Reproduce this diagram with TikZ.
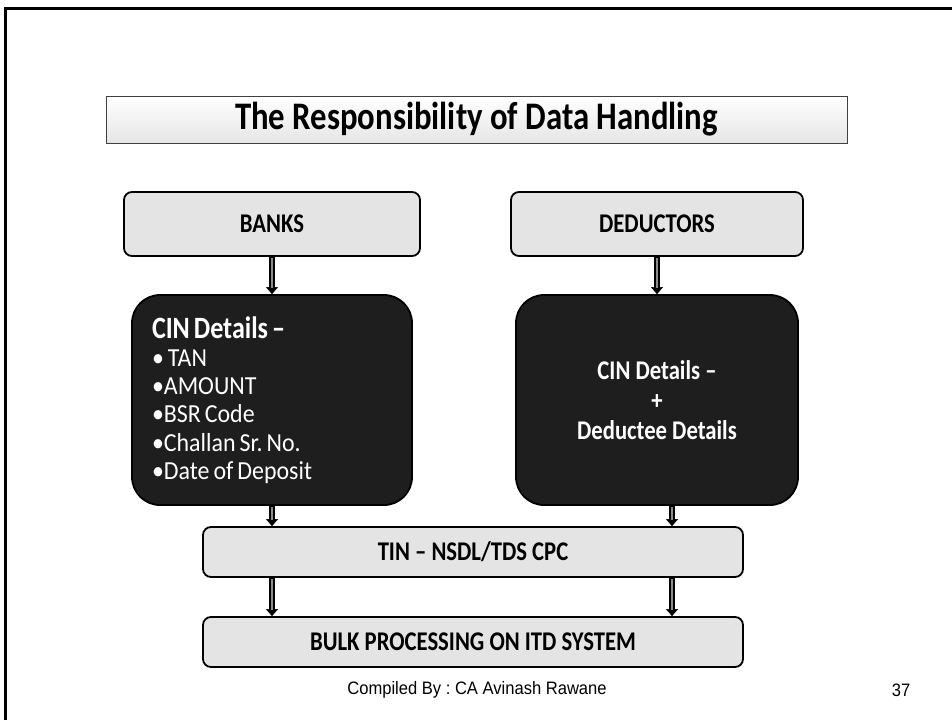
\documentclass[tikz,border=0pt]{standalone}
\usepackage{fontspec}
\setmainfont{Carlito}
\newfontfamily\condf[FakeStretch=0.84]{Carlito}
\newfontfamily\regf[FakeStretch=0.92]{Carlito}
\newfontfamily\footf[FakeStretch=0.92]{Liberation Sans}
\usetikzlibrary{arrows.meta,calc}
\definecolor{boxgray}{HTML}{E4E4E4}
\definecolor{darkfill}{HTML}{1E1E1E}
\frenchspacing
\begin{document}
\begin{tikzpicture}[x=1pt,y=-1pt,
  titlebox/.style={draw=black!75, line width=1pt, top color=white, bottom color=black!10, inner sep=0pt,
    font=\condf\bfseries\fontsize{39}{39}\selectfont},
  lightbox/.style={draw=black, line width=1.8pt, fill=boxgray, rounded corners=8pt, inner sep=0pt,
    font=\condf\bfseries\fontsize{27}{27}\selectfont},
  darkbox/.style={draw=black, line width=1.8pt, fill=darkfill, rounded corners=28pt, inner sep=0pt, text=white},
  tipline/.style={line width=0.5pt, -{Triangle[width=12pt,length=7pt]}},
  outershaft/.style={line width=6pt, shorten >=6pt},
  innershaft/.style={line width=2.4pt, draw=black!45, shorten >=6pt, shorten <=1.2pt},
  foottext/.style={font=\footf\fontsize{18}{18}\selectfont, inner sep=0pt}]
\useasboundingbox (0,0) rectangle (952,720);
\fill[white] (0,0) rectangle (952,720);
% slide frame
\draw[line width=3pt] (5,720) -- (5,8) -- (952,8);
% title
\node[titlebox, minimum width=741pt, minimum height=47pt] (title) at (476.5,119.5) {The Responsibility of Data Handling};
% top boxes
\node[lightbox, minimum width=296pt, minimum height=64pt] (banks) at (272,224) {BANKS};
\node[lightbox, minimum width=292pt, minimum height=64pt] (deduct) at (657,224) {DEDUCTORS};
% dark boxes
\node[darkbox, minimum width=280pt, minimum height=210pt, text width=240pt, align=left,
  font=\regf\fontsize{26}{28.3}\selectfont] (cinl) at (272,400)
  {\spaceskip=4pt
   {\condf\bfseries\fontsize{31}{31}\selectfont CIN Details –}\\
   • TAN\\
   •AMOUNT\\
   •BSR Code\\
   •Challan Sr. No.\\
   •Date of Deposit};
\node[darkbox, minimum width=282pt, minimum height=210pt, align=center,
  font=\condf\bfseries\fontsize{27}{30}\selectfont] (cinr) at (657,400)
  {CIN Details –\\ +\\ Deductee Details};
% bottom boxes
\node[lightbox, minimum width=540pt, minimum height=50pt] (tin) at (473,552) {TIN – NSDL/TDS CPC};
\node[lightbox, minimum width=540pt, minimum height=50pt] (bulk) at (473,642) {BULK PROCESSING ON ITD SYSTEM};
% arrows
\coordinate (rx) at (672,0);
\foreach \s/\t in {banks.south/cinl.north, deduct.south/cinr.north,
    cinl.south/tin.north -| cinl.south, cinr.south -| rx/tin.north -| rx,
    tin.south -| cinl.south/bulk.north -| cinl.south, tin.south -| rx/bulk.north -| rx}{
  \draw[tipline] (\s) -- (\t);
  \draw[outershaft] (\s) -- (\t);
  \draw[innershaft] (\s) -- (\t);
}
% footer
\node[foottext] (foot) at (477,690) {Compiled By : CA Avinash Rawane};
\node[foottext] (page) at (901,690) {37};
\end{tikzpicture}
\end{document}
